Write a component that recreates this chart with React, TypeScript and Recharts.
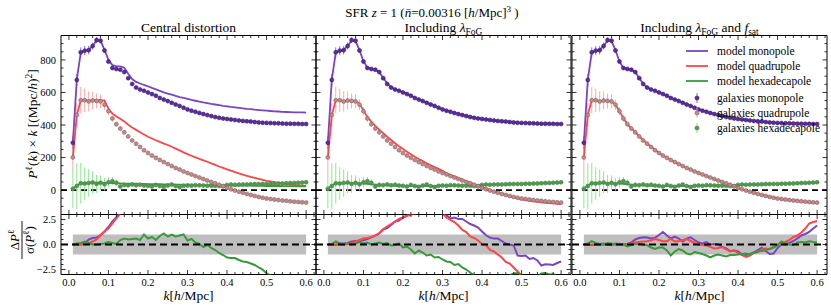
import React from "react";
import { ComposedChart, Line, XAxis, YAxis, ReferenceLine, ReferenceArea, ErrorBar, Legend } from "recharts";

// ---------------- data ----------------
const K = [
  0.01, 0.02, 0.03, 0.04, 0.05, 0.06, 0.07, 0.08, 0.09, 0.1,
  0.11, 0.12, 0.13, 0.14, 0.15, 0.16, 0.17, 0.18, 0.19, 0.2,
  0.21, 0.22, 0.23, 0.24, 0.25, 0.26, 0.27, 0.28, 0.29, 0.3,
  0.31, 0.32, 0.33, 0.34, 0.35, 0.36, 0.37, 0.38, 0.39, 0.4,
  0.41, 0.42, 0.43, 0.44, 0.45, 0.46, 0.47, 0.48, 0.49, 0.5,
  0.51, 0.52, 0.53, 0.54, 0.55, 0.56, 0.57, 0.58, 0.59, 0.6,
];

const galMono = [
  291, 677, 847, 857, 860, 885, 922, 918, 858, 790,
  750, 744, 740, 725, 688, 652, 630, 618, 610, 600,
  590, 580, 566, 556, 547, 536, 526, 517, 506, 496,
  488, 481, 474, 467, 461, 455, 449, 444, 440, 437,
  434, 431, 428, 425, 423, 421, 418, 416, 414, 413,
  412, 411, 410, 409, 408, 408, 407, 407, 406, 406,
];
const monoErr = [
  40, 36, 30, 28, 26, 22, 18, 16, 14, 12,
  10, 9, 8, 8, 7, 7, 6, 6, 5, 5,
  5, 5, 4, 4, 4, 4, 4, 4, 3, 3,
  3, 3, 3, 3, 3, 3, 3, 3, 3, 3,
  3, 3, 3, 3, 3, 3, 3, 3, 3, 3,
  3, 3, 3, 3, 3, 3, 3, 3, 3, 3,
];
const galQuad = [
  201, 462, 552, 552, 545, 550, 548, 545, 525, 485,
  440, 405, 378, 355, 330, 305, 285, 265, 245, 228,
  212, 198, 185, 172, 160, 148, 136, 126, 115, 105,
  96, 86, 77, 68, 59, 50, 42, 33, 24, 13,
  5, -3, -10, -17, -24, -30, -36, -42, -47, -52,
  -55, -58, -61, -64, -66, -69, -71, -73, -75, -77,
];
const quadErr = [
  80, 72, 82, 72, 62, 55, 46, 42, 32, 25,
  20, 17, 15, 13, 11, 10, 9, 8, 7, 7,
  6, 6, 5, 5, 5, 5, 4, 4, 4, 4,
  4, 4, 4, 3, 3, 3, 3, 3, 3, 3,
  3, 3, 3, 3, 3, 3, 3, 3, 3, 3,
  3, 3, 3, 3, 3, 3, 3, 3, 3, 3,
];
const galHex = [
  8, 25, 42, 40, 44, 47, 38, 45, 36, 48,
  55, 45, 22, 32, 30, 35, 30, 33, 28, 26,
  22, 32, 25, 20, 28, 34, 25, 18, 26, 28,
  27, 30, 29, 28, 27, 26, 26, 25, 24, 32,
  34, 33, 34, 35, 35, 36, 37, 37, 38, 38,
  39, 39, 40, 41, 42, 43, 44, 45, 46, 48,
];
const hexErr = [
  120, 140, 125, 100, 85, 68, 55, 45, 38, 30,
  25, 20, 17, 15, 13, 12, 11, 10, 9, 9,
  8, 8, 7, 7, 7, 6, 6, 6, 6, 5,
  5, 5, 5, 5, 5, 5, 5, 5, 5, 5,
  5, 5, 5, 5, 5, 5, 5, 5, 5, 5,
  5, 5, 5, 5, 5, 5, 5, 5, 5, 5,
];

// model multipoles
const modelMonoCentral = [
  291, 680, 845, 858, 862, 886, 920, 918, 862, 800,
  768, 762, 760, 752, 715, 682, 665, 655, 646, 638,
  628, 619, 610, 601, 593, 586, 579, 572, 566, 560,
  554, 549, 544, 539, 535, 530, 526, 522, 518, 515,
  511, 508, 505, 502, 499, 497, 494, 492, 490, 488,
  486, 484, 483, 481, 480, 479, 478, 477, 477, 476,
];
const modelMonoFoG = [
  291, 680, 845, 858, 862, 886, 920, 916, 860, 792,
  752, 745, 741, 724, 690, 655, 632, 620, 611, 601,
  591, 580, 568, 557, 547, 537, 527, 517, 507, 498,
  490, 482, 475, 468, 462, 456, 450, 445, 441, 437,
  434, 431, 428, 425, 423, 420, 418, 416, 414, 413,
  412, 411, 410, 409, 408, 408, 407, 407, 406, 406,
];
const modelMonoSat = [
  291, 679, 846, 857, 861, 886, 921, 917, 859, 791,
  751, 744, 740, 725, 689, 653, 631, 619, 610, 600,
  590, 580, 567, 557, 547, 537, 527, 517, 507, 497,
  489, 482, 475, 468, 462, 456, 450, 445, 441, 437,
  434, 431, 428, 425, 423, 421, 418, 416, 414, 413,
  412, 411, 410, 409, 408, 407, 407, 406, 405, 404,
];
const modelQuadCentral = [
  201, 462, 552, 553, 550, 552, 553, 552, 550, 500,
  470, 452, 438, 422, 402, 385, 370, 355, 342, 328,
  317, 306, 296, 286, 277, 266, 255, 244, 232, 221,
  211, 201, 192, 183, 174, 164, 155, 145, 136, 127,
  119, 111, 103, 95, 88, 81, 75, 69, 63, 57,
  53, 49, 45, 41, 37, 35, 32, 30, 28, 26,
];
const modelQuadFoG = [
  201, 460, 553, 553, 545, 550, 550, 548, 530, 490,
  450, 420, 395, 372, 350, 328, 308, 288, 270, 252,
  236, 220, 205, 191, 178, 165, 153, 141, 130, 118,
  104, 94, 84, 75, 65, 55, 46, 37, 27, 18,
  10, 1, -8, -16, -24, -31, -38, -45, -51, -57,
  -62, -66, -70, -73, -76, -78, -80, -82, -84, -86,
];
const modelQuadSat = [
  201, 462, 552, 552, 546, 550, 548, 545, 525, 485,
  442, 407, 380, 356, 331, 307, 286, 266, 246, 229,
  213, 199, 185, 172, 160, 148, 137, 126, 116, 105,
  96, 86, 77, 68, 59, 50, 42, 33, 24, 14,
  6, -2, -10, -17, -24, -30, -36, -41, -46, -51,
  -55, -58, -61, -64, -67, -70, -73, -76, -78, -80,
];
const modelHexCentral = [
  8, 28, 40, 43, 44, 45, 45, 45, 44, 44,
  43, 42, 41, 40, 40, 39, 39, 38, 38, 37,
  37, 36, 36, 35, 35, 35, 34, 34, 33, 33,
  33, 32, 32, 31, 31, 30, 30, 30, 29, 29,
  28, 28, 28, 27, 27, 27, 26, 26, 26, 25,
  25, 25, 25, 24, 24, 24, 24, 23, 23, 23,
];
const modelHexFull = [
  8, 28, 40, 43, 44, 44, 43, 42, 41, 40,
  38, 36, 34, 32, 30, 29, 28, 27, 26, 26,
  25, 25, 25, 25, 25, 25, 25, 25, 26, 26,
  26, 27, 27, 28, 28, 29, 29, 30, 30, 31,
  32, 32, 33, 34, 35, 35, 36, 37, 38, 38,
  39, 40, 41, 41, 42, 43, 44, 45, 45, 46,
];

// residuals  ΔP / σ
const resMonoCentral = [
  0, 0.05, 0, 0.1, 0.5, 0.65, 0.7, 0.95, 1.3, 1.75,
  2.3, 2.7, 3.2, 3.8, 4.4, 4.9, 5.4, 5.8, 6.2, 6.6,
  7.0, 7.3, 7.6, 7.9, 8.2, 8.5, 8.8, 9.0, 9.3, 9.5,
  9.7, 9.9, 10.1, 10.3, 10.5, 10.7, 10.9, 11.0, 11.2, 11.4,
  11.5, 11.7, 11.8, 12.0, 12.1, 12.3, 12.4, 12.5, 12.7, 12.8,
  12.9, 13.0, 13.1, 13.2, 13.3, 13.4, 13.5, 13.6, 13.7, 13.8,
];
const resQuadCentral = [
  0, -0.05, 0, 0.05, 0.1, 0.3, 0.5, 0.9, 1.3, 1.6,
  2.1, 2.6, 3.1, 3.7, 4.3, 4.9, 5.4, 5.9, 6.4, 6.9,
  7.3, 7.7, 8.1, 8.5, 8.9, 9.3, 9.6, 10.0, 10.3, 10.6,
  10.9, 11.2, 11.5, 11.8, 12.0, 12.3, 12.5, 12.7, 12.9, 13.1,
  13.3, 13.5, 13.7, 13.8, 14.0, 14.1, 14.3, 14.4, 14.5, 14.6,
  14.7, 14.8, 14.9, 15.0, 15.1, 15.2, 15.3, 15.3, 15.4, 15.5,
];
const resHexCentral = [
  0, 0.1, 0.15, 0.3, 0.15, 0.0, 0.0, 0.05, 0.1, 0.25,
  0.15, 0.05, 0.45, 0.6, 0.5, 0.55, 0.6, 0.45, 1.0, 0.6,
  0.75, 0.45, 0.85, 1.1, 0.8, 1.0, 0.8, 0.9, 1.0, 0.4,
  0.55, 0.2, 0.05, -0.25, -0.05, -0.35, -0.55, -0.85, -1.05, -1.3,
  -1.35, -1.35, -1.55, -1.7, -1.75, -1.9, -2.05, -2.3, -2.5, -2.9,
  -3.1, -3.2, -3.4, -3.5, -3.7, -3.8, -3.9, -4.0, -4.1, -4.2,
];
const resMonoFoG = [
  0, 0.05, -0.05, 0.1, 0.1, 0.15, 0.3, 0.35, 0.35, 0.43,
  0.55, 0.72, 0.88, 1.1, 1.5, 1.65, 1.95, 2.3, 2.4, 2.7,
  2.9, 3.2, 3.5, 3.7, 3.8, 3.9, 3.8, 3.7, 3.5, 3.2,
  2.95, 2.6, 2.7, 2.55, 2.55, 2.3, 2.05, 1.9, 1.7, 1.3,
  0.92, 0.7, 0.59, 0.59, 0.35, 0.1, 0.0, -0.1, -1.1, -1.15,
  -1.1, -1.45, -1.35, -1.6, -2.1, -1.98, -2.0, -2.05, -1.85, -1.7,
];
const resQuadFoG = [
  0, -0.02, 0, 0.02, -0.02, 0.05, 0.15, 0.3, 0.45, 0.6,
  0.65, 0.75, 0.9, 1.15, 1.55, 1.8, 2.05, 2.3, 2.55, 2.7,
  2.85, 3.0, 3.1, 3.2, 3.3, 3.3, 3.3, 3.2, 3.2, 3.1,
  2.7, 2.45, 2.25, 1.9, 1.45, 1.25, 0.8, 0.65, 0.4, 0.05,
  -0.07, -0.55, -0.7, -1.0, -1.3, -1.75, -1.9, -2.3, -2.7, -3.1,
  -3.4, -3.6, -3.8, -4.0, -4.1, -4.2, -4.3, -4.4, -4.5, -4.6,
];
const resHexFoG = [
  0, 0.05, 0.3, 0.1, 0.0, 0.15, 0.0, 0.1, 0.25, 0.1,
  0.2, 0.0, 0.1, 0.2, 0.05, 0.15, -0.1, -0.05, 0.1, -0.3,
  -0.2, -0.5, -0.9, -0.6, -0.8, -1.1, -1.0, -1.3, -1.25, -1.5,
  -1.7, -1.75, -2.05, -1.95, -2.3, -2.5, -2.8, -3.1, -3.3, -3.2,
  -3.5, -3.3, -3.4, -3.2, -3.1, -3.3, -3.1, -2.9, -2.85, -3.1,
  -3.3, -3.2, -3.4, -3.2, -2.9, -2.85, -3.0, -2.95, -3.2, -3.3,
];
const resMonoSat = [
  0, -0.05, -0.05, 0, 0.05, 0.1, -0.05, -0.05, 0.1, 0.05,
  0, 0.05, 0.2, 0.5, 0.65, 0.72, 0.7, 0.6, 0.66, 0.95,
  1.25, 0.9, 0.6, 0.8, 0.6, 0.3, 0.59, 0.72, 0.45, 0.2,
  0.1, 0.25, 0.0, 0.05, 0.0, -0.25, -0.4, -0.65, -0.6, -0.7,
  -1.0, -1.05, -0.95, -0.8, -0.55, -0.33, -0.65, -0.95, -0.9, -0.35,
  0.05, 0.0, 0.15, 0.35, 0.6, 0.9, 1.05, 1.25, 1.6, 1.9,
];
const resQuadSat = [
  0, 0, 0, -0.05, -0.05, 0, 0, 0, 0, 0,
  0, 0.05, 0.1, 0.2, 0.26, 0.3, 0.33, 0.43, 0.55, 0.45,
  0.33, 0.33, 0.55, 0.3, 0.35, 0.45, 0.55, 0.35, 0.15, 0.0,
  -0.05, -0.1, -0.24, -0.4, -0.35, -0.25, -0.5, -0.7, -0.6, -0.85,
  -1.05, -1.25, -1.1, -0.85, -0.75, -0.5, -0.4, -0.45, -0.25, -0.07,
  0.05, 0.25, 0.45, 0.75, 0.9, 1.2, 1.6, 2.1, 2.25, 2.35,
];
const resHexSat = [
  0, 0.1, 0.33, 0.15, 0.05, 0.0, 0.15, 0.1, 0.0, 0.0,
  0.0, -0.2, -0.05, 0.05, 0.1, 0.0, -0.07, -0.3, -0.45, -0.3,
  -0.3, -0.6, -1.1, -0.7, -0.45, -0.6, -0.9, -1.0, -0.75, -0.85,
  -0.95, -1.1, -1.3, -1.1, -1.0, -1.1, -1.2, -1.05, -1.06, -1.0,
  -0.95, -0.9, -0.99, -0.8, -0.7, -0.66, -0.56, -0.45, -0.3, -0.05,
  0.3, 0.1, 0.0, -0.05, 0.2, 0.25, 0.2, 0.33, 0.25, 0.2,
];

// ticks
const X_MAJOR = [0, 0.1, 0.2, 0.3, 0.4, 0.5, 0.6];
const Y_TOP_MAJOR = [0, 200, 400, 600, 800];
const Y_BOT_MAJOR = [-2.5, 0, 2.5];
const LEGEND_LABELS = [
  "model monopole",
  "model quadrupole",
  "model hexadecapole",
  "galaxies monopole",
  "galaxies quadrupole",
  "galaxies hexadecapole",
];

// ---------------- layout / style ----------------
const FONT = "Liberation Serif, Times New Roman, serif";
const W = 831;
const H = 306;
const PANEL_LEFT = [61, 316, 572];
const PW = 255;
const TOP_Y = 35.5;
const TOP_H = 179;
const BOT_Y = 214.5;
const BOT_H = 60;
const X_DOMAIN: [number, number] = [-0.02, 0.625];
const Y_TOP_DOMAIN: [number, number] = [-150, 950];
const Y_BOT_DOMAIN: [number, number] = [-3, 3];
const TICK_FONT = 10.5;

const C = {
  purple: "#7a44c4",
  red: "#ff4646",
  green: "#3a9a3a",
  monoFill: "#5a2c9c",
  monoEdge: "#3e2070",
  monoErr: "#9468d8",
  quadFill: "#c98686",
  quadEdge: "#7e6a6a",
  quadErr: "#ffa8a8",
  hexFill: "#44a044",
  hexEdge: "#5f7f5f",
  hexErr: "#8ee88e",
  band: "#bebebe",
};

const xTicks = (() => {
  const out: number[] = [];
  for (let i = 0; i <= 31; i++) out.push(Math.round(i * 2) / 100);
  return out;
})();
const yTopTicks = (() => {
  const out: number[] = [];
  for (let v = -100; v <= 900; v += 50) out.push(v);
  return out;
})();
const yBotTicks = [-2.5, -2, -1.5, -1, -0.5, 0, 0.5, 1, 1.5, 2, 2.5];

const near = (list: number[], v: number) => list.some((m) => Math.abs(m - v) < 1e-9);
const fmtBot = (v: number) => (v < 0 ? "\u2212" + Math.abs(v).toFixed(1) : v.toFixed(1));

function makeXTick(plotH: number, showLabel: boolean) {
  return (p: any) => {
    const x = p.x;
    const y = p.y;
    const v = p.payload.value as number;
    const major = near(X_MAJOR, v);
    const len = major ? 4.5 : 2.5;
    return (
      <g>
        <line x1={x} x2={x} y1={y} y2={y - len} stroke="#000" strokeWidth={0.8} />
        <line x1={x} x2={x} y1={y - plotH} y2={y - plotH + len} stroke="#000" strokeWidth={0.8} />
        {showLabel && major ? (
          <text x={x} y={y + 11.5} textAnchor="middle" fontSize={TICK_FONT} fill="#000" fontFamily={FONT}>
            {v.toFixed(1)}
          </text>
        ) : null}
      </g>
    );
  };
}

function makeYTick(majors: number[], showLabel: boolean, fmt: (v: number) => string) {
  return (p: any) => {
    const x = p.x;
    const y = p.y;
    const v = p.payload.value as number;
    const major = near(majors, v);
    const len = major ? 4.5 : 2.5;
    return (
      <g>
        <line x1={x} x2={x + len} y1={y} y2={y} stroke="#000" strokeWidth={0.8} />
        <line x1={x + PW} x2={x + PW - len} y1={y} y2={y} stroke="#000" strokeWidth={0.8} />
        {showLabel && major ? (
          <text x={x - 5} y={y + 3.6} textAnchor="end" fontSize={TICK_FONT} fill="#000" fontFamily={FONT}>
            {fmt(v)}
          </text>
        ) : null}
      </g>
    );
  };
}

// axes take 1px (an axis of size 0 is not drawn)
const margin = (left: number, top: number, h: number) => ({
  left: left - 1,
  top,
  right: W - left - PW,
  bottom: H - top - h - 1,
});

function LegendBox() {
  const rowsY = [9, 24, 39, 56, 71, 86];
  const lineColors = [C.purple, C.red, C.green];
  const pts = [
    { fill: C.monoFill, edge: C.monoEdge, err: C.monoErr },
    { fill: C.quadFill, edge: C.quadEdge, err: C.quadErr },
    { fill: C.hexFill, edge: C.hexEdge, err: C.hexErr },
  ];
  return (
    <svg width={150} height={100} style={{ overflow: "visible", display: "block", fontFamily: FONT }}>
      {LEGEND_LABELS.map((lab, i) => {
        const y = rowsY[i];
        return (
          <g key={lab}>
            {i < 3 ? (
              <line x1={6} x2={28} y1={y} y2={y} stroke={lineColors[i]} strokeWidth={1.8} />
            ) : (
              <g>
                <line x1={17} x2={17} y1={y - 5} y2={y + 5} stroke={pts[i - 3].err} strokeWidth={1} />
                <circle cx={17} cy={y} r={2.1} fill={pts[i - 3].fill} stroke={pts[i - 3].edge} strokeWidth={0.6} />
              </g>
            )}
            <text x={37} y={y + 4} fontSize={11.5} fill="#000" style={{ fontFamily: FONT }}>
              {lab}
            </text>
          </g>
        );
      })}
    </svg>
  );
}

type TopProps = {
  idx: number;
  mono: number[];
  quad: number[];
  hex: number[];
  legend?: boolean;
};

function TopPanel({ idx, mono, quad, hex, legend }: TopProps) {
  const rows = K.map((k, i) => ({
    k,
    gMono: galMono[i],
    eMono: monoErr[i],
    gQuad: galQuad[i],
    eQuad: quadErr[i],
    gHex: galHex[i],
    eHex: hexErr[i],
    mMono: mono[i],
    mQuad: quad[i],
    mHex: hex[i],
  }));
  const left = PANEL_LEFT[idx];
  return (
    <div style={{ position: "absolute", left: 0, top: 0 }}>
      <ComposedChart width={W} height={H} data={rows} margin={margin(left, TOP_Y, TOP_H)}>
        <XAxis
          dataKey="k"
          type="number"
          domain={X_DOMAIN}
          ticks={xTicks}
          interval={0}
          allowDataOverflow
          height={1}
          tickSize={0}
          tickMargin={0}
          axisLine={false}
          tickLine={false}
          tick={makeXTick(TOP_H, false)}
        />
        <YAxis
          type="number"
          domain={Y_TOP_DOMAIN}
          ticks={yTopTicks}
          interval={0}
          allowDataOverflow
          width={1}
          tickSize={0}
          tickMargin={0}
          axisLine={false}
          tickLine={false}
          tick={makeYTick(Y_TOP_MAJOR, idx === 0, (v) => String(v))}
        />
        <ReferenceLine y={0} stroke="#000" strokeWidth={1.6} strokeDasharray="6 4" />
        <Line dataKey="gHex" stroke="none" isAnimationActive={false} activeDot={false}
          dot={{ r: 2, fill: C.hexFill, stroke: C.hexEdge, strokeWidth: 0.6 }}>
          <ErrorBar dataKey="eHex" width={0} stroke={C.hexErr} strokeWidth={1} direction="y" isAnimationActive={false} />
        </Line>
        <Line dataKey="gQuad" stroke="none" isAnimationActive={false} activeDot={false}
          dot={{ r: 2, fill: C.quadFill, stroke: C.quadEdge, strokeWidth: 0.6 }}>
          <ErrorBar dataKey="eQuad" width={0} stroke={C.quadErr} strokeWidth={1} direction="y" isAnimationActive={false} />
        </Line>
        <Line dataKey="gMono" stroke="none" isAnimationActive={false} activeDot={false}
          dot={{ r: 2, fill: C.monoFill, stroke: C.monoEdge, strokeWidth: 0.6 }}>
          <ErrorBar dataKey="eMono" width={0} stroke={C.monoErr} strokeWidth={1} direction="y" isAnimationActive={false} />
        </Line>
        <Line dataKey="mMono" stroke={C.purple} strokeWidth={1.8} dot={false} activeDot={false} isAnimationActive={false} />
        <Line dataKey="mQuad" stroke={C.red} strokeWidth={1.8} dot={false} activeDot={false} isAnimationActive={false} />
        <Line dataKey="mHex" stroke={C.green} strokeWidth={1.8} dot={false} activeDot={false} isAnimationActive={false} />
        <ReferenceArea
          x1={X_DOMAIN[0]} x2={X_DOMAIN[1]} y1={Y_TOP_DOMAIN[0]} y2={Y_TOP_DOMAIN[1]}
          fill="none" fillOpacity={0} stroke="#000" strokeWidth={1} ifOverflow="visible"
        />
        {legend ? (
          <Legend
            layout="vertical"
            align="center"
            verticalAlign="middle"
            content={() => <LegendBox />}
            wrapperStyle={{ position: "absolute", left: 680, top: 42, width: 150, height: 100, margin: 0, padding: 0 }}
          />
        ) : null}
      </ComposedChart>
    </div>
  );
}

type BotProps = { idx: number; m: number[]; q: number[]; h: number[] };

function BottomPanel({ idx, m, q, h }: BotProps) {
  const rows = K.map((k, i) => ({ k, rMono: m[i], rQuad: q[i], rHex: h[i] }));
  const left = PANEL_LEFT[idx];
  return (
    <div style={{ position: "absolute", left: 0, top: 0 }}>
      <ComposedChart width={W} height={H} data={rows} margin={margin(left, BOT_Y, BOT_H)}>
        <XAxis
          dataKey="k"
          type="number"
          domain={X_DOMAIN}
          ticks={xTicks}
          interval={0}
          allowDataOverflow
          height={1}
          tickSize={0}
          tickMargin={0}
          axisLine={false}
          tickLine={false}
          tick={makeXTick(BOT_H, true)}
        />
        <YAxis
          type="number"
          domain={Y_BOT_DOMAIN}
          ticks={yBotTicks}
          interval={0}
          allowDataOverflow
          width={1}
          tickSize={0}
          tickMargin={0}
          axisLine={false}
          tickLine={false}
          tick={makeYTick(Y_BOT_MAJOR, idx === 0, fmtBot)}
        />
        <ReferenceArea x1={0.01} x2={0.6} y1={-1} y2={1} fill={C.band} fillOpacity={1} stroke="none" ifOverflow="visible" />
        <Line dataKey="rMono" stroke={C.purple} strokeWidth={2} dot={false} activeDot={false} isAnimationActive={false} />
        <Line dataKey="rQuad" stroke={C.red} strokeWidth={2} dot={false} activeDot={false} isAnimationActive={false} />
        <Line dataKey="rHex" stroke={C.green} strokeWidth={2} dot={false} activeDot={false} isAnimationActive={false} />
        <ReferenceLine y={0} stroke="#000" strokeWidth={2} strokeDasharray="7 4" />
        <ReferenceArea
          x1={X_DOMAIN[0]} x2={X_DOMAIN[1]} y1={Y_BOT_DOMAIN[0]} y2={Y_BOT_DOMAIN[1]}
          fill="none" fillOpacity={0} stroke="#000" strokeWidth={1} ifOverflow="visible"
        />
      </ComposedChart>
    </div>
  );
}

function Labels() {
  const centers = PANEL_LEFT.map((l) => l + PW / 2);
  const sub = { fontSize: 9.5 };
  return (
    <svg width={W} height={H} style={{ position: "absolute", left: 0, top: 0, fontFamily: FONT }} fill="#000">
      <text x={432} y={17} textAnchor="middle" fontSize={13}>
        SFR <tspan fontStyle="italic">z</tspan> = 1 (<tspan fontStyle="italic">n̄</tspan>=0.00316 [
        <tspan fontStyle="italic">h</tspan>/Mpc]<tspan fontSize={9} dy={-5}>3</tspan>
        <tspan dy={5}> )</tspan>
      </text>
      <text x={centers[0]} y={31.5} textAnchor="middle" fontSize={13.5}>Central distortion</text>
      <text x={centers[1]} y={31.5} textAnchor="middle" fontSize={13.5}>
        Including <tspan fontStyle="italic">λ</tspan>
        <tspan {...sub} dy={3}>FoG</tspan>
      </text>
      <text x={centers[2]} y={31.5} textAnchor="middle" fontSize={13.5}>
        Including <tspan fontStyle="italic">λ</tspan>
        <tspan {...sub} dy={3}>FoG</tspan>
        <tspan dy={-3}> and </tspan>
        <tspan fontStyle="italic">f</tspan>
        <tspan {...sub} dy={3}>sat</tspan>
      </text>
      {centers.map((cx, i) => (
        <text key={i} x={cx} y={299.5} textAnchor="middle" fontSize={13.5}>
          <tspan fontStyle="italic">k</tspan>[<tspan fontStyle="italic">h</tspan>/Mpc]
        </text>
      ))}
      <text transform="translate(37,124) rotate(-90)" textAnchor="middle" fontSize={13.5}>
        <tspan fontStyle="italic">P</tspan>
        <tspan fontSize={9.5} dy={-5}>ℓ</tspan>
        <tspan dy={5}>(</tspan>
        <tspan fontStyle="italic">k</tspan>) × <tspan fontStyle="italic">k</tspan> [(Mpc/
        <tspan fontStyle="italic">h</tspan>)<tspan fontSize={9.5} dy={-5}>2</tspan>
        <tspan dy={5}>]</tspan>
      </text>
      <g transform="translate(22,240) rotate(-90)">
        <text x={0} y={-3.5} textAnchor="middle" fontSize={13}>
          Δ<tspan fontStyle="italic">P</tspan>
          <tspan fontSize={9} dy={-5}>ℓ</tspan>
        </text>
        <line x1={-19} x2={19} y1={0} y2={0} stroke="#000" strokeWidth={0.9} />
        <text x={0} y={12} textAnchor="middle" fontSize={13}>
          σ(<tspan fontStyle="italic">P</tspan>
          <tspan fontSize={9} dy={-5}>ℓ</tspan>
          <tspan dy={5}>)</tspan>
        </text>
      </g>
    </svg>
  );
}

export default function App() {
  return (
    <div
      style={{
        position: "absolute",
        left: 0,
        top: 0,
        width: W,
        height: H,
        background: "#fff",
        fontFamily: FONT,
        overflow: "hidden",
      }}
    >
      <Labels />
      <TopPanel idx={0} mono={modelMonoCentral} quad={modelQuadCentral} hex={modelHexCentral} />
      <TopPanel idx={1} mono={modelMonoFoG} quad={modelQuadFoG} hex={modelHexFull} />
      <TopPanel idx={2} mono={modelMonoSat} quad={modelQuadSat} hex={modelHexFull} legend />
      <BottomPanel idx={0} m={resMonoCentral} q={resQuadCentral} h={resHexCentral} />
      <BottomPanel idx={1} m={resMonoFoG} q={resQuadFoG} h={resHexFoG} />
      <BottomPanel idx={2} m={resMonoSat} q={resQuadSat} h={resHexSat} />
    </div>
  );
}
